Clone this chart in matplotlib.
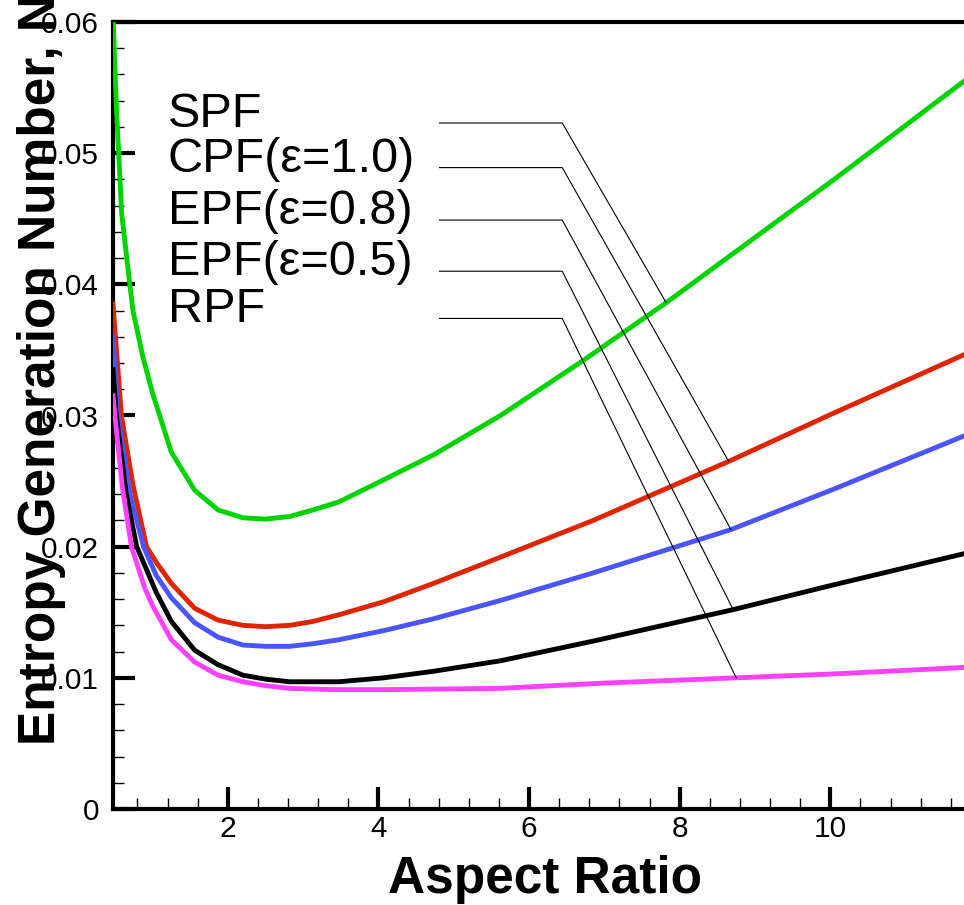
import matplotlib
matplotlib.use("Agg")
import matplotlib.pyplot as plt
from matplotlib.ticker import MultipleLocator, FixedLocator, FixedFormatter

plt.rcParams['font.family'] = ['Liberation Sans', 'DejaVu Sans']

# --- data --------------------------------------------------------------
spf_x = [0.475, 0.52, 0.59, 0.70, 0.74, 0.87, 1.00, 1.25, 1.56, 1.87, 2.2, 2.5,
         2.82, 3.13, 3.47, 4.07, 4.73, 5.62, 6.72, 7.82, 10.05, 11.8]
spf_y = [0.0605, 0.0535, 0.0454, 0.0399, 0.0380, 0.0345, 0.0317, 0.0272, 0.0243,
         0.0228, 0.0222, 0.0221, 0.0223, 0.0228, 0.0234, 0.0251, 0.0270, 0.0300,
         0.0342, 0.0386, 0.0480, 0.0556]

cpf_x = [0.475, 0.586, 0.74, 0.92, 1.05, 1.25, 1.56, 1.87, 2.2, 2.5, 2.82, 3.13,
         3.47, 4.07, 4.73, 5.62, 6.85, 8.65, 10.05, 11.8]
cpf_y = [0.0385, 0.0300, 0.0247, 0.0200, 0.0188, 0.0172, 0.0153, 0.0144, 0.0140,
         0.0139, 0.0140, 0.0143, 0.0148, 0.0158, 0.0172, 0.0192, 0.0220, 0.0265,
         0.0302, 0.0347]

epf08_x = [0.475, 0.54, 0.70, 0.88, 1.05, 1.25, 1.56, 1.87, 2.2, 2.5, 2.82, 3.13,
           3.47, 4.07, 4.73, 5.62, 6.85, 8.68, 10.05, 11.8]
epf08_y = [0.0360, 0.0300, 0.0240, 0.0200, 0.0178, 0.0161, 0.0142, 0.0131, 0.0125,
           0.0124, 0.0124, 0.0126, 0.0129, 0.0136, 0.0145, 0.0159, 0.0180, 0.0213,
           0.0244, 0.0285]

epf05_x = [0.475, 0.52, 0.65, 0.79, 1.05, 1.25, 1.56, 1.87, 2.2, 2.5, 2.82, 3.13,
           3.47, 4.07, 4.73, 5.62, 6.85, 8.71, 10.05, 11.8]
epf05_y = [0.0335, 0.0300, 0.0240, 0.0200, 0.0165, 0.0143, 0.0121, 0.0110, 0.0102,
           0.0099, 0.0097, 0.0097, 0.0097, 0.0100, 0.0105, 0.0113, 0.0128, 0.0152,
           0.0171, 0.0195]

rpf_x = [0.475, 0.50, 0.60, 0.72, 0.90, 1.0, 1.25, 1.56, 1.87, 2.2, 2.5, 2.82,
         3.4, 4.07, 5.62, 7.0, 8.75, 10.05, 11.8]
rpf_y = [0.0315, 0.0300, 0.0245, 0.0200, 0.0168, 0.0155, 0.0129, 0.0112, 0.0102,
         0.0097, 0.0094, 0.0092, 0.0091, 0.0091, 0.0092, 0.0096, 0.0100, 0.0103,
         0.0108]

labels = ['SPF', 'CPF(ε=1.0)', 'EPF(ε=0.8)', 'EPF(ε=0.5)', 'RPF']
colors = ['#00d400', '#e02400', '#4a55ff', '#000000', '#ff40ff']

# leader lines: label row height and the point each one points at
label_x = 1.20
leader_x0 = 4.81
leader_x1 = 6.44
label_rows = [0.0523, 0.0489, 0.0449, 0.0410, 0.0374]
leader_end_x = [7.82, 8.65, 8.68, 8.71, 8.75]
leader_end_y = [0.0386, 0.0265, 0.0213, 0.0152, 0.0100]

yticks = [0, 0.01, 0.02, 0.03, 0.04, 0.05, 0.06]
ytick_labels = ['0', '0.01', '0.02', '0.03', '0.04', '0.05', '0.06']
xticks = [2, 4, 6, 8, 10]

# --- figure -------------------------------------------------------------
W, H = 964, 905
fig = plt.figure(figsize=(W / 100, H / 100), dpi=100)
ax = fig.add_axes([113 / W, (H - 809) / H, (W - 113) / W + 0.002, (809 - 22) / H])

series = [(spf_x, spf_y), (cpf_x, cpf_y), (epf08_x, epf08_y),
          (epf05_x, epf05_y), (rpf_x, rpf_y)]
for (xs, ys), c in zip(series, colors):
    ax.plot(xs, ys, color=c, lw=3.5, solid_joinstyle='miter', zorder=3)

for lab, ry, ex, ey in zip(labels, label_rows, leader_end_x, leader_end_y):
    ax.plot([leader_x0, leader_x1, ex], [ry, ry, ey], color='black', lw=0.8, zorder=4)
    ax.text(label_x, ry - 0.0003, lab, fontsize=35, va='baseline', ha='left')

ax.set_xlim(0.475, 11.8)
ax.set_ylim(0, 0.06)

ax.xaxis.set_major_locator(FixedLocator(xticks))
ax.xaxis.set_minor_locator(MultipleLocator(0.4))
ax.yaxis.set_major_locator(FixedLocator(yticks))
ax.yaxis.set_major_formatter(FixedFormatter(ytick_labels))
ax.yaxis.set_minor_locator(MultipleLocator(0.002))

ax.tick_params(which='major', direction='in', length=16, width=3, labelsize=21.5)
ax.tick_params(which='minor', direction='in', length=8, width=1)
ax.tick_params(axis='y', which='major', pad=10)
ax.tick_params(axis='x', which='major', pad=4)
ax.tick_params(top=False, right=False, which='both')

for s in ['left', 'bottom', 'top']:
    ax.spines[s].set_linewidth(3)
ax.spines['right'].set_visible(False)

fig.text(544.5 / W, (H - 893) / H, 'Aspect Ratio', fontsize=37, fontweight='bold',
         ha='center', va='baseline')
fig.text(55 / W, (H - 745) / H, 'Entropy Generation Number, N', fontsize=37,
         fontweight='bold', rotation=90, rotation_mode='anchor',
         ha='left', va='baseline')

fig.savefig('out.png', dpi=100)
